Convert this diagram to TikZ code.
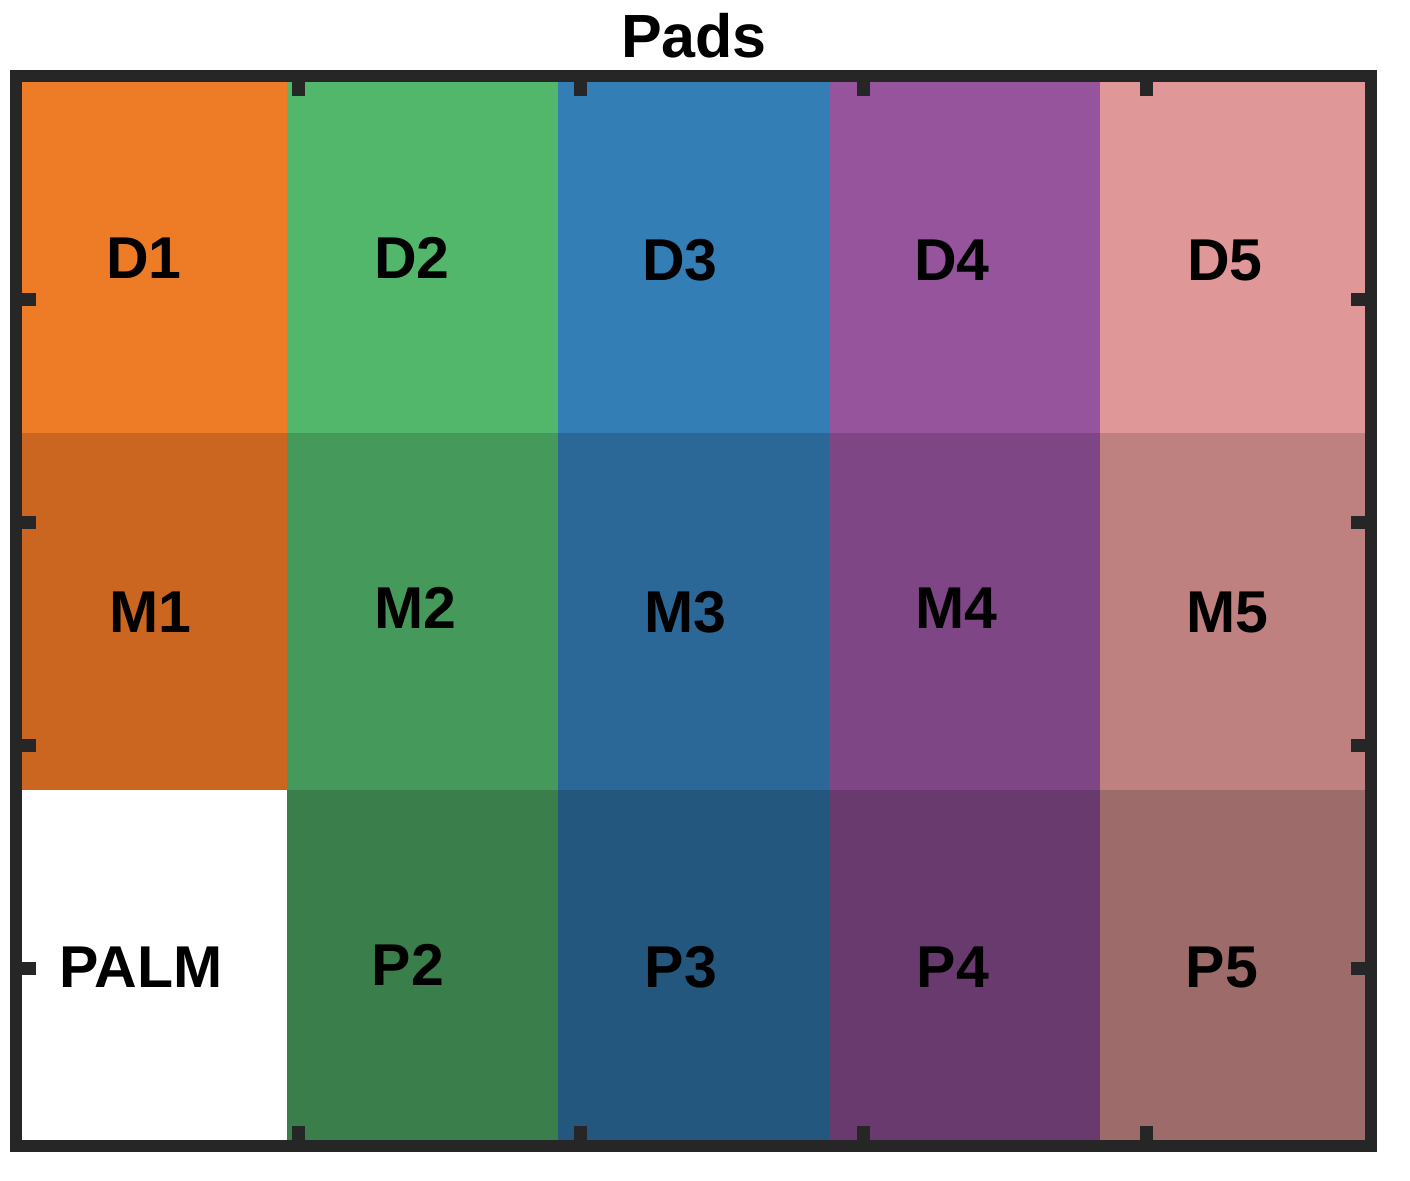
\documentclass[tikz,border=0pt]{standalone}
\usepackage{fontspec}
\setmainfont{Liberation Sans}

\definecolor{dorange}{RGB}{238,123,38}
\definecolor{morange}{RGB}{202,102,31}
\definecolor{dgreen}{RGB}{82,183,106}
\definecolor{mgreen}{RGB}{69,153,91}
\definecolor{pgreen}{RGB}{58,127,75}
\definecolor{dblue}{RGB}{51,126,181}
\definecolor{mblue}{RGB}{43,104,151}
\definecolor{pblue}{RGB}{35,87,126}
\definecolor{dpurple}{RGB}{150,84,157}
\definecolor{mpurple}{RGB}{126,70,132}
\definecolor{ppurple}{RGB}{104,58,109}
\definecolor{dpink}{RGB}{224,151,151}
\definecolor{mpink}{RGB}{191,128,128}
\definecolor{ppink}{RGB}{156,107,106}
\definecolor{axisgray}{RGB}{38,38,38}

\tikzset{
  padlabel/.style={font=\fontsize{29.5}{34}\selectfont\bfseries, inner sep=0pt},
  axisframe/.style={draw=axisgray, line width=6pt},
  axistick/.style={draw=axisgray, line width=6.5pt},
}

\begin{document}
\begin{tikzpicture}[x=0.5pt,y=-0.5pt]
\useasboundingbox (0,0) rectangle (1410,1180);

%%% 色のセル
% D row
\fill[dorange] (16,76) rectangle (287,433);
\fill[dgreen] (287,76) rectangle (558,433);
\fill[dblue] (558,76) rectangle (829,433);
\fill[dpurple] (829,76) rectangle (1100,433);
\fill[dpink] (1100,76) rectangle (1371,433);
% M row
\fill[morange] (16,433) rectangle (287,790);
\fill[mgreen] (287,433) rectangle (558,790);
\fill[mblue] (558,433) rectangle (829,790);
\fill[mpurple] (829,433) rectangle (1100,790);
\fill[mpink] (1100,433) rectangle (1371,790);
% P row
\fill[white] (16,790) rectangle (287,1146);
\fill[pgreen] (287,790) rectangle (558,1146);
\fill[pblue] (558,790) rectangle (829,1146);
\fill[ppurple] (829,790) rectangle (1100,1146);
\fill[ppink] (1100,790) rectangle (1371,1146);
%%%

%% 枠
\draw[axisframe] (16,76) rectangle (1371,1146);

%% 目盛り
% top / bottom
\draw[axistick] (298,76) --(298,96);
\draw[axistick] (580,76) --(580,96);
\draw[axistick] (863,76) --(863,96);
\draw[axistick] (1146,76) --(1146,96);
\draw[axistick] (298,1146) --(298,1126);
\draw[axistick] (580,1146) --(580,1126);
\draw[axistick] (863,1146) --(863,1126);
\draw[axistick] (1146,1146) --(1146,1126);
% left / right
\draw[axistick] (16,299) --(36,299);
\draw[axistick] (16,522) --(36,522);
\draw[axistick] (16,745) --(36,745);
\draw[axistick] (16,968) --(36,968);
\draw[axistick] (1371,299) --(1351,299);
\draw[axistick] (1371,522) --(1351,522);
\draw[axistick] (1371,745) --(1351,745);
\draw[axistick] (1371,968) --(1351,968);

%% タイトル
\node[font=\fontsize{30.5}{34}\selectfont\bfseries, anchor=base, inner sep=0pt] (title) at (694,57) {Pads};

%% ラベル
\node[padlabel] (d1) at (144,258) {D1};
\node[padlabel] (d2) at (412,258) {D2};
\node[padlabel] (d3) at (680,260) {D3};
\node[padlabel] (d4) at (952,260) {D4};
\node[padlabel] (d5) at (1225,260) {D5};

\node[padlabel] (m1) at (150,612) {M1};
\node[padlabel] (m2) at (415,608) {M2};
\node[padlabel] (m3) at (685,612) {M3};
\node[padlabel] (m4) at (956,608) {M4};
\node[padlabel] (m5) at (1227,612) {M5};

\node[padlabel] (palm) at (141,967) {PALM};
\node[padlabel] (p2) at (408,965) {P2};
\node[padlabel] (p3) at (681,967) {P3};
\node[padlabel] (p4) at (953,967) {P4};
\node[padlabel] (p5) at (1222,967) {P5};

\end{tikzpicture}
\end{document}
